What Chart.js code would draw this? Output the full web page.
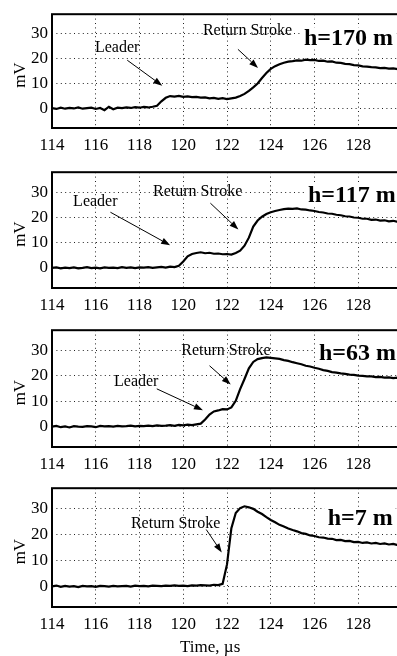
<!DOCTYPE html>
<html>
<head>
<meta charset="utf-8">
<script src="https://cdn.jsdelivr.net/npm/chart.js@4.4.1/dist/chart.umd.min.js"></script>
<style>
  html, body { margin: 0; padding: 0; background: #fff; width: 397px; height: 656px; overflow: hidden; }
  .panel { position: absolute; left: 0; }
</style>
</head>
<body>
<canvas class="panel" id="c0" width="420" height="158" style="top:0px"></canvas>
<canvas class="panel" id="c1" width="420" height="158" style="top:158px"></canvas>
<canvas class="panel" id="c2" width="420" height="158" style="top:316px"></canvas>
<canvas class="panel" id="c3" width="420" height="182" style="top:474px"></canvas>
<script>
// time axis, microseconds
const timeUs = [
  114, 114.2, 114.4, 114.6, 114.8, 115, 115.2, 115.4, 115.6, 115.8,
  116, 116.2, 116.4, 116.6, 116.8, 117, 117.2, 117.4, 117.6, 117.8,
  118, 118.2, 118.4, 118.6, 118.8, 119, 119.2, 119.4, 119.6, 119.8,
  120, 120.2, 120.4, 120.6, 120.8, 121, 121.2, 121.4, 121.6, 121.8,
  122, 122.2, 122.4, 122.6, 122.8, 123, 123.2, 123.4, 123.6, 123.8,
  124, 124.2, 124.4, 124.6, 124.8, 125, 125.2, 125.4, 125.6, 125.8,
  126, 126.2, 126.4, 126.6, 126.8, 127, 127.2, 127.4, 127.6, 127.8,
  128, 128.2, 128.4, 128.6, 128.8, 129, 129.2, 129.4, 129.6, 129.8,
  130
];

// mV, one trace per height
const mvH170 = [
  0.0, -0.3, 0.2, -0.2, 0.1, -0.1, 0.3, -0.2, 0.0, 0.2,
  -0.3, 0.1, -0.8, 0.6, -0.4, 0.2, 0.0, 0.3, 0.1, 0.4,
  0.2, 0.5, 0.3, 0.6, 1.0, 2.8, 4.2, 4.9, 4.7, 5.0,
  4.6, 4.8, 4.5, 4.6, 4.3, 4.4, 4.0, 4.2, 3.8, 4.1,
  3.7, 4.0, 4.3, 4.9, 5.8, 7.0, 8.4, 10.0, 12.2, 14.2,
  15.9, 17.0, 17.8, 18.4, 18.8, 19.0, 19.3, 19.2, 19.6, 19.4,
  19.5, 19.1, 19.2, 18.8, 18.9, 18.4, 18.3, 17.9, 17.8, 17.4,
  17.3, 16.9, 16.8, 16.6, 16.5, 16.2, 16.3, 16.0, 16.1, 15.8,
  15.9
];
const mvH117 = [
  0.0, 0.2, -0.2, 0.1, -0.1, 0.2, -0.2, 0.0, 0.3, -0.1,
  0.1, -0.2, 0.2, 0.0, 0.1, -0.1, 0.3, 0.0, 0.2, -0.1,
  0.2, 0.1, 0.3, 0.0, 0.2, 0.4, 0.1, 0.5, 0.3, 0.8,
  2.5, 4.6, 5.5, 5.9, 6.2, 5.8, 6.0, 5.6, 5.7, 5.4,
  5.5, 5.3, 5.9, 6.8, 8.8, 12.0, 16.4, 18.8, 20.3, 21.4,
  22.1, 22.6, 23.0, 23.3, 23.5, 23.4, 23.6, 23.2, 23.1, 22.8,
  22.6, 22.2, 22.0, 21.6, 21.5, 21.1, 20.9, 20.5, 20.4, 20.0,
  19.9, 19.5, 19.5, 19.1, 19.2, 18.8, 18.9, 18.5, 18.7, 18.3,
  18.5
];
const mvH63 = [
  0.0, 0.3, -0.2, 0.1, -0.3, 0.2, 0.0, -0.1, 0.2, 0.1,
  -0.2, 0.3, 0.1, 0.2, 0.0, 0.3, 0.1, 0.2, 0.4, 0.1,
  0.3, 0.2, 0.4, 0.2, 0.5, 0.3, 0.4, 0.6, 0.3, 0.7,
  0.5, 0.8, 0.6, 0.9, 1.2, 2.8, 4.8, 6.0, 6.4, 6.9,
  6.8, 7.6, 10.2, 14.8, 18.8, 23.0, 25.5, 26.6, 27.0, 27.3,
  27.1, 26.9, 26.7, 26.2, 25.9, 25.4, 25.0, 24.6, 24.0, 23.7,
  23.2, 22.8, 22.3, 22.0, 21.5, 21.3, 21.0, 20.8, 20.5, 20.4,
  20.1, 20.0, 19.8, 19.8, 19.5, 19.6, 19.3, 19.4, 19.1, 19.3,
  19.0
];
const mvH7 = [
  0.0, 0.3, -0.2, 0.2, -0.1, 0.1, -0.3, 0.2, 0.0, 0.1,
  -0.2, 0.2, 0.1, -0.1, 0.2, 0.0, 0.1, 0.2, -0.1, 0.3,
  0.1, 0.2, 0.0, 0.3, 0.2, 0.1, 0.3, 0.2, 0.4, 0.2,
  0.3, 0.1, 0.4, 0.3, 0.5, 0.4, 0.3, 0.6, 0.5, 1.0,
  8.5, 22.5, 28.4, 30.3, 31.0, 30.6, 30.0, 28.9, 28.0, 26.8,
  25.7, 24.8, 23.8, 23.2, 22.4, 21.8, 21.3, 20.6, 20.3, 19.7,
  19.5, 19.0, 18.9, 18.5, 18.4, 17.9, 18.0, 17.5, 17.6, 17.1,
  17.2, 16.8, 17.0, 16.6, 16.8, 16.4, 16.6, 16.2, 16.4, 16.0,
  16.2
];

const xTicks = [114, 116, 118, 120, 122, 124, 126, 128];
const yTicks = [0, 10, 20, 30];
const heightLabels = ["h=170 m", "h=117 m", "h=63 m", "h=7 m"];

const serif = "'Liberation Serif', 'Times New Roman', serif";

// per panel layout + annotation anchors (data units)
const panels = [
  { id: "c0", values: mvH170, padTop: 13, axisH: 30,
    title: [125.52, 25.4],
    notes: [
      { text: "Leader", at: [116.98, 24.6], from: [117.44, 19.4], to: [119.04, 9.1] },
      { text: "Return Stroke", at: [122.94, 31.3], from: [122.5, 23.8], to: [123.42, 16.3] }
    ] },
  { id: "c1", values: mvH117, padTop: 12, axisH: 28,
    title: [125.7, 26.3],
    notes: [
      { text: "Leader", at: [115.98, 26.3], from: [116.67, 22.1], to: [119.4, 9.0] },
      { text: "Return Stroke", at: [120.66, 30.3], from: [121.24, 25.7], to: [122.52, 15.2] }
    ] },
  { id: "c2", values: mvH63, padTop: 13, axisH: 27,
    title: [126.2, 26.3],
    notes: [
      { text: "Leader", at: [117.85, 17.5], from: [118.79, 14.9], to: [120.9, 6.5] },
      { text: "Return Stroke", at: [121.95, 29.7], from: [121.2, 24.0], to: [122.17, 16.6] }
    ] },
  { id: "c3", values: mvH7, padTop: 13, axisH: 49, xTitle: "Time, \u00b5s",
    title: [126.6, 23.8],
    notes: [
      { text: "Return Stroke", at: [119.65, 24.3], from: [121.05, 22.0], to: [121.76, 13.1] }
    ] }
];

function drawArrow(ctx, x1, y1, x2, y2) {
  const ang = Math.atan2(y2 - y1, x2 - x1);
  const len = 9, half = 3.2;
  const bx = x2 - len * Math.cos(ang), by = y2 - len * Math.sin(ang);
  ctx.beginPath();
  ctx.moveTo(x1, y1);
  ctx.lineTo(bx, by);
  ctx.stroke();
  ctx.beginPath();
  ctx.moveTo(x2, y2);
  ctx.lineTo(bx + half * Math.sin(ang), by - half * Math.cos(ang));
  ctx.lineTo(bx - half * Math.sin(ang), by + half * Math.cos(ang));
  ctx.closePath();
  ctx.fill();
}

const decorPlugin = {
  id: "decor",
  afterDraw(chart) {
    const { ctx, chartArea: a, scales: { x, y } } = chart;
    const p = chart.options.plugins.decor;
    ctx.save();

    // axes box
    ctx.strokeStyle = "#000";
    ctx.lineWidth = 2;
    ctx.strokeRect(a.left, a.top, a.right - a.left, a.bottom - a.top);

    // annotations
    ctx.fillStyle = "#000";
    ctx.lineWidth = 1;
    ctx.font = "16px " + serif;
    ctx.textAlign = "center";
    ctx.textBaseline = "middle";
    p.notes.forEach((n) => {
      ctx.fillText(n.text, x.getPixelForValue(n.at[0]), y.getPixelForValue(n.at[1]));
      drawArrow(ctx,
        x.getPixelForValue(n.from[0]), y.getPixelForValue(n.from[1]),
        x.getPixelForValue(n.to[0]), y.getPixelForValue(n.to[1]));
    });

    // height label on white
    ctx.font = "bold 24px " + serif;
    ctx.textAlign = "left";
    ctx.textBaseline = "alphabetic";
    const tx = x.getPixelForValue(p.title[0]);
    const ty = y.getPixelForValue(p.title[1]);
    const w = ctx.measureText(p.label).width;
    ctx.fillStyle = "#fff";
    ctx.fillRect(tx - 3, ty - 18, w + 6, 22);
    ctx.fillStyle = "#000";
    ctx.fillText(p.label, tx, ty);

    // y axis title
    ctx.font = "17px " + serif;
    ctx.textAlign = "center";
    ctx.textBaseline = "middle";
    ctx.translate(21, (a.top + a.bottom) / 2 + 4);
    ctx.rotate(-Math.PI / 2);
    ctx.fillText("mV", 0, 0);
    ctx.restore();

    if (p.xTitle) {
      ctx.save();
      ctx.fillStyle = "#000";
      ctx.font = "17px " + serif;
      ctx.textAlign = "center";
      ctx.textBaseline = "middle";
      ctx.fillText(p.xTitle, x.getPixelForValue(121.23), a.bottom + 41);
      ctx.restore();
    }
  }
};

panels.forEach((p, i) => {
  const ctx = document.getElementById(p.id).getContext("2d");
  new Chart(ctx, {
    type: "line",
    data: {
      datasets: [{
        data: timeUs.map((t, k) => ({ x: t, y: p.values[k] })),
        borderColor: "#000",
        borderWidth: 2.2,
        pointRadius: 0,
        tension: 0,
        fill: false
      }]
    },
    options: {
      responsive: false,
      animation: false,
      layout: { padding: { top: p.padTop, right: 18, left: 0, bottom: 0 } },
      plugins: {
        legend: { display: false },
        tooltip: { enabled: false },
        decor: { notes: p.notes, title: p.title, label: heightLabels[i], xTitle: p.xTitle }
      },
      scales: {
        x: {
          type: "linear",
          min: 114,
          max: 130,
          afterBuildTicks: (s) => { s.ticks = xTicks.map((v) => ({ value: v })); },
          afterFit: (s) => { s.height = p.axisH; },
          grid: { color: "#222", lineWidth: 1, drawTicks: false },
          border: { display: false, dash: [1, 3.4] },
          ticks: { color: "#000", padding: 7, maxRotation: 0, font: { family: serif, size: 17 } }
        },
        y: {
          min: -8,
          max: 38,
          afterBuildTicks: (s) => { s.ticks = yTicks.map((v) => ({ value: v })); },
          afterFit: (s) => { s.width = 52; },
          grid: { color: "#222", lineWidth: 1, drawTicks: false },
          border: { display: false, dash: [1, 3.4] },
          ticks: { color: "#000", padding: 4, font: { family: serif, size: 17 } }
        }
      }
    },
    plugins: [decorPlugin]
  });
});
</script>
</body>
</html>
